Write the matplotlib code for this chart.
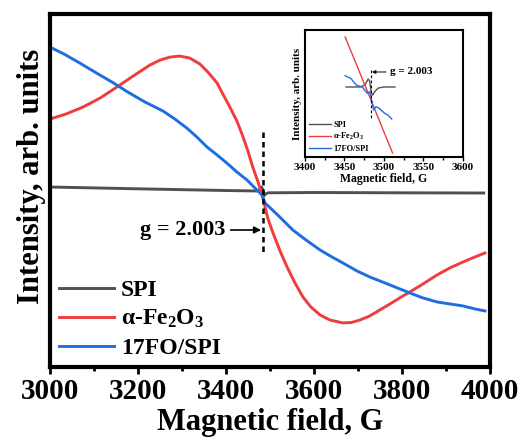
import numpy as np
import matplotlib
matplotlib.use('Agg')
import matplotlib.pyplot as plt
from matplotlib.ticker import MultipleLocator

# main spectra (field in G, intensity in arb. units)
spi_field = [3000, 3200, 3400, 3475, 3481, 3484, 3486, 3490, 3496, 3600, 3800, 3986]
spi_int = [30, 12, -5, -10, 30, 0, -60, -40, -28, -25, -28, -30]

fe_field = [3000, 3036, 3075, 3114, 3152, 3189, 3227, 3250, 3273, 3295, 3318, 3341,
            3359, 3380, 3393, 3409, 3425, 3439, 3450, 3461, 3473, 3484, 3495, 3507,
            3523, 3539, 3557, 3575, 3593, 3614, 3636, 3666, 3686, 3705, 3727, 3750,
            3773, 3795, 3818, 3848, 3880, 3909, 3939, 3966, 3989]
fe_int = [710, 760, 830, 920, 1030, 1140, 1250, 1300, 1330, 1340, 1320, 1260,
          1180, 1070, 960, 830, 690, 530, 390, 230, 80, -80, -280, -430,
          -610, -770, -930, -1070, -1170, -1250, -1300, -1330, -1325, -1300, -1260, -1200,
          -1140, -1080, -1020, -940, -850, -780, -720, -670, -630]

fo_field = [3000, 3032, 3064, 3102, 3141, 3177, 3216, 3257, 3284, 3311, 3334, 3357,
            3380, 3402, 3425, 3448, 3466, 3482, 3489, 3520, 3552, 3582, 3614, 3641,
            3666, 3698, 3727, 3750, 3773, 3818, 3848, 3880, 3909, 3939, 3966, 3989]
fo_int = [1430, 1360, 1280, 1180, 1080, 980, 880, 790, 710, 620, 530, 430,
          350, 270, 180, 100, 20, -50, -130, -260, -400, -500, -600, -670,
          -730, -810, -870, -910, -950, -1030, -1080, -1120, -1140, -1160, -1190, -1210]

# inset (zoom around g = 2.003)
in_spi_field = [3452, 3470, 3476, 3480, 3482, 3484, 3486, 3489, 3493, 3500, 3514]
in_spi_int = [0, 0, 20, 80, 60, -60, -80, -40, -10, 0, 0]
in_fe_field = [3451, 3511]
in_fe_int = [500, -660]
in_fo_field = [3451, 3458, 3465, 3473, 3479, 3482, 3484, 3487, 3490, 3494, 3501, 3505, 3510]
in_fo_int = [113, 87, 20, -3, -63, -47, -113, -230, -197, -213, -263, -280, -320]

g_field = 3484
labels = ['SPI', r'α-Fe$_2$O$_3$', '17FO/SPI']
colors = ['#505050', '#F03C3C', '#1E6EE0']

plt.rcParams['font.family'] = ['Liberation Serif', 'DejaVu Serif']
plt.rcParams['font.weight'] = 'bold'
plt.rcParams['mathtext.fontset'] = 'custom'
plt.rcParams['mathtext.rm'] = 'Liberation Serif:bold'
plt.rcParams['mathtext.it'] = 'Liberation Serif:bold'
plt.rcParams['mathtext.bf'] = 'Liberation Serif:bold'

fig = plt.figure(figsize=(5.23, 4.41), dpi=100)
ax = fig.add_axes([0.0956, 0.168, 0.841, 0.800])

ax.plot(spi_field, spi_int, color=colors[0], lw=2.1, label=labels[0])
ax.plot(fe_field, fe_int, color=colors[1], lw=2.1, label=labels[1])
ax.plot(fo_field, fo_int, color=colors[2], lw=2.1, label=labels[2])
ax.plot([g_field, g_field], [580, -620], color='black', lw=1.8, ls=(0, (2.2, 1.6)))
ax.annotate('g = 2.003', xy=(3480, -400), xytext=(3398, -400), ha='right', va='center',
            fontsize=16, fontweight='bold',
            arrowprops=dict(arrowstyle='-|>', color='black', lw=1.2, mutation_scale=10,
                            shrinkA=2, shrinkB=0))

ax.set_xlim(3000, 4000)
ax.set_ylim(-1770, 1760)
ax.xaxis.set_major_locator(MultipleLocator(200))
ax.xaxis.set_minor_locator(MultipleLocator(100))
ax.set_yticks([])
ax.tick_params(axis='x', which='major', direction='out', length=5, width=2, labelsize=21, pad=3)
ax.tick_params(axis='x', which='minor', direction='out', length=3, width=2)
for s in ax.spines.values():
    s.set_linewidth(3)
ax.set_xlabel('Magnetic field, G', fontsize=22, fontweight='bold', labelpad=2)
ax.set_ylabel('Intensity, arb. units', fontsize=22, fontweight='bold')
ax.yaxis.set_label_coords(-0.008, 0.54)
ax.legend(loc='lower left', frameon=False, fontsize=17, handlelength=2.3,
          handletextpad=0.3, labelspacing=0.3, borderaxespad=0.0, borderpad=0.15,
          bbox_to_anchor=(0.013, 0.013))

# inset
axin = fig.add_axes([0.583, 0.644, 0.302, 0.288])
axin.plot(in_spi_field, in_spi_int, color=colors[0], lw=1.0, label=labels[0])
axin.plot(in_fe_field, in_fe_int, color=colors[1], lw=1.0, label=labels[1])
axin.plot(in_fo_field, in_fo_int, color=colors[2], lw=1.0, label=labels[2])
axin.plot([g_field, g_field], [170, -310], color='black', lw=0.8, ls=(0, (2.5, 2)))
axin.annotate('g = 2.003', xy=(3485, 150), xytext=(3508, 150), ha='left', va='center',
              fontsize=8, fontweight='bold',
              arrowprops=dict(arrowstyle='-|>', color='black', lw=0.7, mutation_scale=5,
                              shrinkA=1, shrinkB=0))
axin.set_xlim(3400, 3600)
axin.set_ylim(-700, 570)
axin.xaxis.set_major_locator(MultipleLocator(50))
axin.xaxis.set_minor_locator(MultipleLocator(25))
axin.set_yticks([])
axin.tick_params(axis='x', which='major', direction='out', length=3, width=1, labelsize=8, pad=1)
axin.tick_params(axis='x', which='minor', direction='out', length=2, width=1)
for s in axin.spines.values():
    s.set_linewidth(1.5)
axin.set_xlabel('Magnetic field, G', fontsize=8.5, fontweight='bold', labelpad=1)
axin.set_ylabel('Intensity, arb. units', fontsize=8, fontweight='bold', labelpad=2)
axin.legend(loc='lower left', frameon=False, fontsize=6, handlelength=2.6,
            handletextpad=0.3, labelspacing=0.3, borderaxespad=0.1)

fig.savefig('out.png', dpi=100)
